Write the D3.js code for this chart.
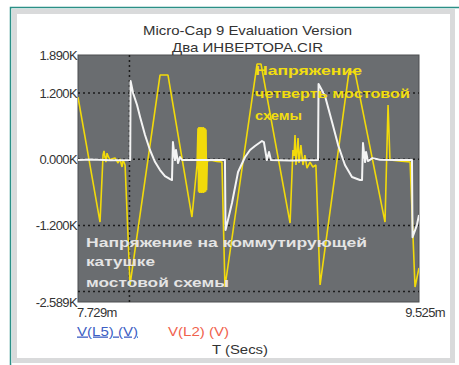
<!DOCTYPE html>
<html>
<head>
<meta charset="utf-8">
<script src="https://cdn.jsdelivr.net/npm/d3@7"></script>
<style>
body { margin: 0; background: #fff; }
text { font-family: "Liberation Sans", Arial, sans-serif; }
</style>
</head>
<body>
<div id="chart"></div>
<script>
// Values (time in ms, voltage in V)
var tL2 = [7.729, 7.845, 7.861, 7.866, 7.871, 7.876, 7.882, 7.887, 7.898, 7.910, 7.924, 7.935, 7.940, 7.950, 7.961, 7.966, 7.971, 7.977,
    8.003, 8.161, 8.203, 8.329, 8.356,
    8.361, 8.364, 8.366, 8.369, 8.372, 8.374, 8.377, 8.380, 8.382, 8.385, 8.388, 8.390, 8.393, 8.396, 8.398, 8.401, 8.403, 8.406,
    8.410, 8.430, 8.460, 8.487, 8.503, 8.672, 8.693, 8.846,
    8.861, 8.867, 8.872, 8.877, 8.888, 8.893, 8.903, 8.914, 8.924, 8.935, 8.951, 8.966, 8.982,
    9.004, 9.156, 9.188, 9.346, 9.362, 9.372, 9.420, 9.478, 9.504, 9.525];
var vL2 = [1128, -1139, 76, 150, 40, -51, 110, 60, -15, 10, 22, -40, -69, 4, -141, -20, -51, -105,
    -2280, 1527, 1527, -1048, -105,
    560, -590, 584, -613, 580, -610, 584, -613, 575, -605, 584, -613, 570, -600, 560, -590, 540, -560,
    -30, -20, -40, -51, -2317, 1726, 1726, -1157,
    167, 60, 439, -105, 384, -69, 257, -105, 76, -160, -51, -141, -105,
    -2280, 1581, 1581, -1139, 983, -15, -30, -51, -2317, -1973];

var tL5 = [7.729, 7.800, 7.900, 8.000, 8.004, 8.006, 8.019, 8.040, 8.056, 8.082, 8.108, 8.135, 8.161, 8.187, 8.214, 8.224,
    8.229, 8.240, 8.245, 8.256, 8.266, 8.277, 8.400, 8.503,
    8.506, 8.519, 8.540, 8.572, 8.609, 8.635, 8.661, 8.698, 8.708, 8.724, 8.735, 8.745, 8.850, 8.993,
    8.996, 9.030, 9.067, 9.099, 9.135, 9.172, 9.214, 9.225, 9.230, 9.241, 9.246, 9.256, 9.280, 9.320, 9.400, 9.488,
    9.491, 9.514, 9.525];
var vL5 = [-15, -5, -20, -15, -15, 1418, 1200, 983, 765, 439, 167, -51, -196, -305, -359, -377,
    312, -15, 167, -69, 40, -15, -15, -15,
    -1284, -1100, -794, -232, 40, 167, 239, 330, 312, -15, 131, -15, -25, -15,
    1363, 1146, 674, 257, -105, -323, -377, -377, 294, -51, 131, -33, 20, -10, -15, -15,
    -1414, -1194, -1012];

var yTicks = [1890, 1200, 0, -1200, -2589];
var yTickLabels = ["1.890K", "1.200K", "0.000K", "-1.200K", "-2.589K"];
var yGrid = [1200, 0, -1200, -2400];
var xGrid = [8.0];
var xDomain = [7.729, 9.525];
var xTickLabels = ["7.729m", "9.525m"];
var titleLines = ["Micro-Cap 9 Evaluation Version", "Два ИНВЕРТОРА.CIR"];
var noteL2 = ["Напряжение", "четверть мостовой", "схемы"];
var noteL5 = ["Напряжение на коммутирующей", "катушке", "мостовой схемы"];
var legendNames = ["V(L5) (V)", "V(L2) (V)"];

var W = 459, H = 365;
var plot = {left: 78, right: 419, top: 55, bottom: 302};

var svg = d3.select("#chart").append("svg")
    .attr("width", W)
    .attr("height", H);

// window frame
svg.append("rect").attr("x", 0).attr("y", 0).attr("width", W).attr("height", H).attr("fill", "#fff");
svg.append("rect")
    .attr("x", 14.5).attr("y", 11.5).attr("width", 438).attr("height", 349)
    .attr("fill", "none").attr("stroke", "#d9dadb").attr("stroke-width", 5);
svg.append("path")
    .attr("d", "M10.5,365 V7.5 H459")
    .attr("fill", "none").attr("stroke", "#2b8f86").attr("stroke-width", 1.5);

var x = d3.scaleLinear().domain(xDomain).range([plot.left, plot.right]);
var y = d3.scaleLinear().domain([yTicks[4], yTicks[0]]).range([plot.bottom, plot.top]);

svg.append("rect")
    .attr("x", plot.left).attr("y", plot.top)
    .attr("width", plot.right - plot.left).attr("height", plot.bottom - plot.top)
    .attr("fill", "#6a6d70").attr("stroke", "#4d4f51").attr("stroke-width", 1);

svg.append("clipPath").attr("id", "clip")
  .append("rect")
    .attr("x", plot.left).attr("y", plot.top)
    .attr("width", plot.right - plot.left).attr("height", plot.bottom - plot.top);

// dotted grid
svg.selectAll(".gy").data(yGrid).enter().append("line")
    .attr("x1", plot.left).attr("x2", plot.right)
    .attr("y1", function(d) { return y(d); }).attr("y2", function(d) { return y(d); })
    .attr("stroke", "#1b1b1b").attr("stroke-width", 1.5).attr("stroke-dasharray", "2,3");
svg.selectAll(".gx").data(xGrid).enter().append("line")
    .attr("y1", plot.top).attr("y2", plot.bottom)
    .attr("x1", function(d) { return x(d); }).attr("x2", function(d) { return x(d); })
    .attr("stroke", "#1b1b1b").attr("stroke-width", 1.5).attr("stroke-dasharray", "2,3");

var line = d3.line()
    .x(function(d) { return x(d[0]); })
    .y(function(d) { return y(d[1]); });

var g = svg.append("g").attr("clip-path", "url(#clip)");
g.append("path")
    .datum(d3.zip(tL2, vL2))
    .attr("d", line)
    .attr("fill", "none").attr("stroke", "#f2da0a").attr("stroke-width", 1.6).attr("stroke-linejoin", "bevel");
g.append("path")
    .datum(d3.zip(tL5, vL5))
    .attr("d", line)
    .attr("fill", "none").attr("stroke", "#f4f4f4").attr("stroke-width", 2).attr("stroke-linejoin", "round");

// y labels
svg.selectAll(".yl").data(yTicks).enter().append("text")
    .attr("x", plot.left - 1)
    .attr("y", function(d) { return y(d) + 4.5; })
    .attr("text-anchor", "end")
    .attr("font-size", 13)
    .attr("letter-spacing", -0.6)
    .attr("fill", "#333")
    .text(function(d, i) { return yTickLabels[i]; });

// x labels
svg.append("text").attr("x", plot.left - 1).attr("y", 316.5)
    .attr("font-size", 13).attr("letter-spacing", -0.6).attr("fill", "#333")
    .text(xTickLabels[0]);
svg.append("text").attr("x", 445).attr("y", 316.5)
    .attr("text-anchor", "end")
    .attr("font-size", 13).attr("letter-spacing", -0.6).attr("fill", "#333")
    .text(xTickLabels[1]);

// title
svg.append("text").attr("x", 143).attr("y", 34.5)
    .attr("font-size", 13).attr("fill", "#333")
    .attr("textLength", 209).attr("lengthAdjust", "spacingAndGlyphs")
    .text(titleLines[0]);
svg.append("text").attr("x", 172).attr("y", 52)
    .attr("font-size", 13).attr("fill", "#333")
    .attr("textLength", 151).attr("lengthAdjust", "spacingAndGlyphs")
    .text(titleLines[1]);

// legend and axis title
svg.append("text").attr("x", 77).attr("y", 335.5)
    .attr("font-size", 13).attr("fill", "#3d5fc4").attr("text-decoration", "underline")
    .attr("textLength", 61).attr("lengthAdjust", "spacingAndGlyphs")
    .text(legendNames[0]);
svg.append("text").attr("x", 168).attr("y", 335.5)
    .attr("font-size", 13).attr("fill", "#f0624c")
    .attr("textLength", 61).attr("lengthAdjust", "spacingAndGlyphs")
    .text(legendNames[1]);
svg.append("text").attr("x", 212).attr("y", 354)
    .attr("font-size", 13).attr("fill", "#333")
    .attr("textLength", 56).attr("lengthAdjust", "spacingAndGlyphs")
    .text("T (Secs)");

// annotations
var l2Widths = [107, 155, 47], l2Base = [75, 97.5, 119.5];
svg.selectAll(".n2").data(noteL2).enter().append("text")
    .attr("x", 255)
    .attr("y", function(d, i) { return l2Base[i]; })
    .attr("font-size", 13).attr("font-weight", "bold").attr("fill", "#f2de10")
    .attr("textLength", function(d, i) { return l2Widths[i]; })
    .attr("lengthAdjust", "spacingAndGlyphs")
    .text(function(d) { return d; });

var l5Widths = [281, 69, 143], l5Base = [247, 266, 287];
svg.selectAll(".n5").data(noteL5).enter().append("text")
    .attr("x", 86)
    .attr("y", function(d, i) { return l5Base[i]; })
    .attr("font-size", 13).attr("font-weight", "bold").attr("fill", "#e4e4e4")
    .attr("textLength", function(d, i) { return l5Widths[i]; })
    .attr("lengthAdjust", "spacingAndGlyphs")
    .text(function(d) { return d; });
</script>
</body>
</html>
